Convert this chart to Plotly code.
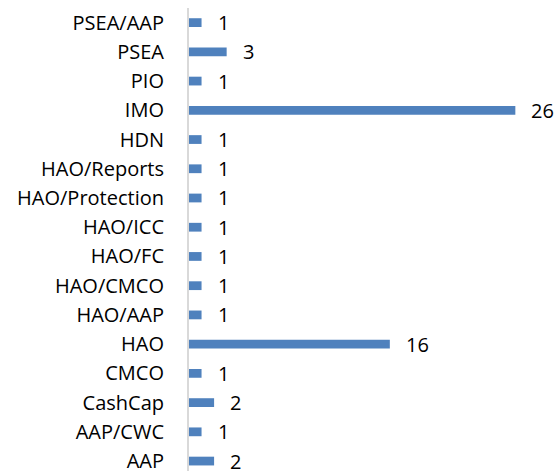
import plotly.graph_objects as go

categories = ["AAP", "AAP/CWC", "CashCap", "CMCO", "HAO", "HAO/AAP", "HAO/CMCO",
              "HAO/FC", "HAO/ICC", "HAO/Protection", "HAO/Reports", "HDN", "IMO",
              "PIO", "PSEA", "PSEA/AAP"]
values = [2, 1, 2, 1, 16, 1, 1, 1, 1, 1, 1, 1, 26, 1, 3, 1]

FONT = "Open Sans"
FS = 20
fig = go.Figure()
fig.add_trace(go.Bar(
    x=values, y=categories, orientation="h",
    marker=dict(color="#4F81BD", line=dict(width=0)),
    width=0.3, hoverinfo="skip",
))
for c, v in zip(categories, values):
    fig.add_annotation(x=v, y=c, text=str(v), showarrow=False,
                       xanchor="left", xshift=14, yshift=0,
                       font=dict(family=FONT, size=FS, color="#000000"))

fig.update_layout(
    width=559, height=474,
    margin=dict(l=189, r=6, t=8, b=0),
    paper_bgcolor="white", plot_bgcolor="white",
    showlegend=False,
    font=dict(family=FONT, size=FS, color="#000000"),
    xaxis=dict(range=[0, 29], visible=False, showgrid=False, zeroline=False),
    yaxis=dict(type="category", categoryorder="array", categoryarray=categories,
               range=[-0.34, 15.5], showgrid=False, zeroline=False,
               showline=True, linecolor="#D9D9D9", linewidth=2,
               ticks="", ticklabelstandoff=19,
               tickfont=dict(family=FONT, size=FS, color="#000000")),
)
fig.write_html("out.html", config={"displayModeBar": False},
               post_script="document.body.style.margin='0';")
